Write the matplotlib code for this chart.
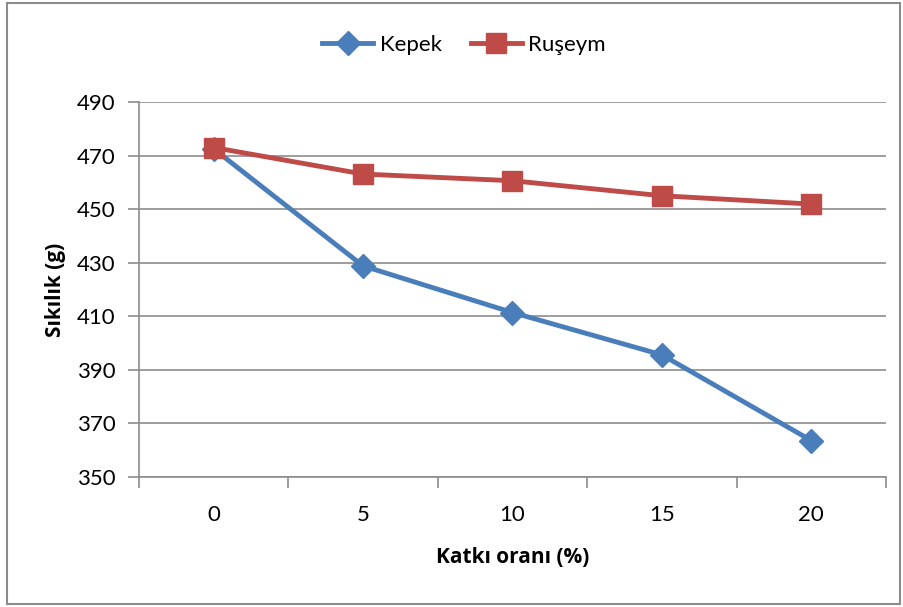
import matplotlib
matplotlib.use("Agg")
import matplotlib.pyplot as plt
from matplotlib.patches import Rectangle

categories = ["0", "5", "10", "15", "20"]
kepek = [472.5, 428.8, 411.4, 395.6, 363.6]
ruseym = [473.0, 463.1, 460.6, 455.0, 451.9]
yticks = [350, 370, 390, 410, 430, 450, 470, 490]

plt.rcParams['font.family'] = ['Lato', 'DejaVu Sans']

fig = plt.figure(figsize=(9.04, 6.07), dpi=100)
ax = fig.add_axes([139/904, 1-477/607, (886-139)/904, (477-102)/607])

x = list(range(len(categories)))
ax.plot(x, kepek, color='#4A7EBB', lw=3.5, marker='D', ms=12, label='Kepek', zorder=3)
ax.plot(x, ruseym, color='#BE4B48', lw=3.5, marker='s', ms=14, label='Ruşeym', zorder=3)

ax.set_xlim(-0.5, len(categories)-0.5)
ax.set_ylim(350, 490)
ax.set_yticks(yticks)
ax.set_yticklabels([str(v) for v in yticks], fontsize=16)
ax.yaxis.grid(True, color='#8C8C8C', lw=1.2)
ax.set_axisbelow(True)

ax.set_xticks(x)
ax.set_xticklabels(categories, fontsize=16)
ax.set_xticks([i - 0.5 for i in range(len(categories)+1)], minor=True)
ax.tick_params(axis='x', which='major', length=0, pad=20)
ax.tick_params(axis='x', which='minor', length=8, color='#8C8C8C', width=1.2, direction='out')
ax.tick_params(axis='y', length=8, color='#8C8C8C', width=1.2, pad=9)

for s in ['top', 'right']:
    ax.spines[s].set_visible(False)
for s in ['left', 'bottom']:
    ax.spines[s].set_color('#8C8C8C')
    ax.spines[s].set_linewidth(1.2)

ax.set_xlabel('Katkı oranı (%)', fontsize=15, fontweight='bold', labelpad=16,
              family=['Open Sans', 'DejaVu Sans'])
ax.set_ylabel('Sıkılık (g)', fontsize=15, fontweight='bold', labelpad=8,
              family=['Open Sans', 'DejaVu Sans'])

leg = fig.legend(loc='center', bbox_to_anchor=(464/904, 1-45/607), ncol=2, frameon=False,
                 fontsize=16, handlelength=2.3, columnspacing=1.3, handletextpad=0.3)

fig.patches.append(Rectangle((7/904, 3/607), 893/904, 601/607, transform=fig.transFigure,
                             fill=False, edgecolor='#8C8C8C', lw=1.5))

fig.savefig('out.png', dpi=100, facecolor='white')
